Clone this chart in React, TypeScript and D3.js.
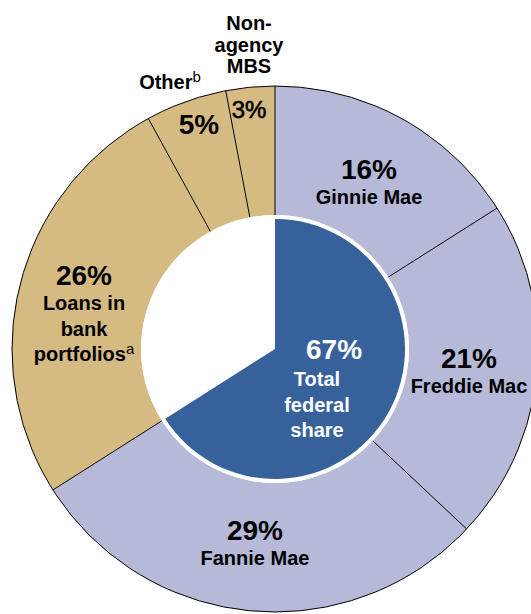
import React from 'react';
import * as d3 from 'd3';

// outer ring, clockwise from 12 o'clock
const segments = ['Ginnie Mae', 'Freddie Mac', 'Fannie Mae', 'Loans in bank portfolios', 'Other', 'Non-agency MBS'];
const shares = [16, 21, 29, 26, 5, 3];
const isFederal = [true, true, true, false, false, false];
const federalShare = 67;

// label text per segment
const pctText = ['16%', '21%', '29%', '26%', '5%', '3%'];
const nameLines = [['Ginnie Mae'], ['Freddie Mac'], ['Fannie Mae'], ['Loans in', 'bank', 'portfolios'], [], []];
const nameSup = ['', '', '', 'a', '', ''];

const W = 531;
const H = 614;
const cx = 275;
const cy = 349;
const rOuter = 263;
const rInner = 134;
const rPie = 130;

const FED = '#b6b9d8';
const NONFED = '#d5bb82';
const BLUE = '#37619b';
const FONT = '"Liberation Sans", Arial, sans-serif';

// x, first baseline y for each segment label
const labelAt = [
  [369, 179],
  [469, 368],
  [255, 540],
  [84, 285],
  [199, 134],
  [249, 118],
];

const App = () => {
  const pie = d3.pie<number>().sort(null).value(d => d);
  const arcs = pie(shares);
  const ringArc = d3.arc<d3.PieArcDatum<number>>().innerRadius(rInner).outerRadius(rOuter);

  const fedSum = d3.sum(shares.filter((_, i) => isFederal[i]));
  const innerArcs = pie([fedSum, 100 - fedSum]);
  const pieArc = d3.arc<d3.PieArcDatum<number>>().innerRadius(0).outerRadius(rPie);

  const radial = (a: number, r: number) => [r * Math.sin(a), -r * Math.cos(a)];

  return (
    <svg width={W} height={H} style={{ position: 'absolute', left: 0, top: 0 }} fontFamily={FONT}>
      <rect width={W} height={H} fill="#fff" />
      <g transform={`translate(${cx},${cy})`}>
        {arcs.map((a, i) => (
          <path key={i} d={ringArc(a) || ''} fill={isFederal[i] ? FED : NONFED} />
        ))}
        {arcs.map((a, i) => {
          const [x1, y1] = radial(a.startAngle, rInner);
          const [x2, y2] = radial(a.startAngle, rOuter);
          return <line key={i} x1={x1} y1={y1} x2={x2} y2={y2} stroke="#000" strokeWidth={1} />;
        })}
        <circle r={rOuter} fill="none" stroke="#000" strokeWidth={1} />
        <circle r={rInner} fill="#fff" />
        <path d={pieArc(innerArcs[0]) || ''} fill={BLUE} />
      </g>

      {arcs.map((a, i) => {
        const [x, y] = labelAt[i];
        const small = i === 5;
        return (
          <g key={i} fontWeight="bold" fill="#000" textAnchor="middle">
            <text
              x={x}
              y={y}
              fontSize={small ? 24 : 28}
              fontWeight={small ? 'normal' : 'bold'}
              stroke={small ? '#000' : 'none'}
              strokeWidth={0.6}
            >
              {pctText[i]}
            </text>
            {nameLines[i].map((ln, j) => (
              <text key={j} x={x} y={y + 25 + j * 25.5} fontSize={20}>
                {ln}
                {j === nameLines[i].length - 1 && nameSup[i] ? (
                  <tspan fontSize={15} fontWeight="normal" dy={-7}>{nameSup[i]}</tspan>
                ) : null}
              </text>
            ))}
          </g>
        );
      })}

      {/* labels outside the ring */}
      <text x={170} y={89} fontSize={20} fontWeight="bold" textAnchor="middle">
        {segments[4]}
        <tspan fontSize={15} fontWeight="normal" dy={-7}>b</tspan>
      </text>
      <g fontSize={20} fontWeight="bold" textAnchor="middle">
        <text x={249} y={30}>Non-</text>
        <text x={249} y={51.5}>agency</text>
        <text x={249} y={73}>MBS</text>
      </g>

      <g fill="#fff" fontWeight="bold" textAnchor="middle">
        <text x={334} y={359} fontSize={28}>{federalShare}%</text>
        <text x={317} y={386} fontSize={20}>Total</text>
        <text x={317} y={411.5} fontSize={20}>federal</text>
        <text x={317} y={437} fontSize={20}>share</text>
      </g>
    </svg>
  );
};

export default App;
